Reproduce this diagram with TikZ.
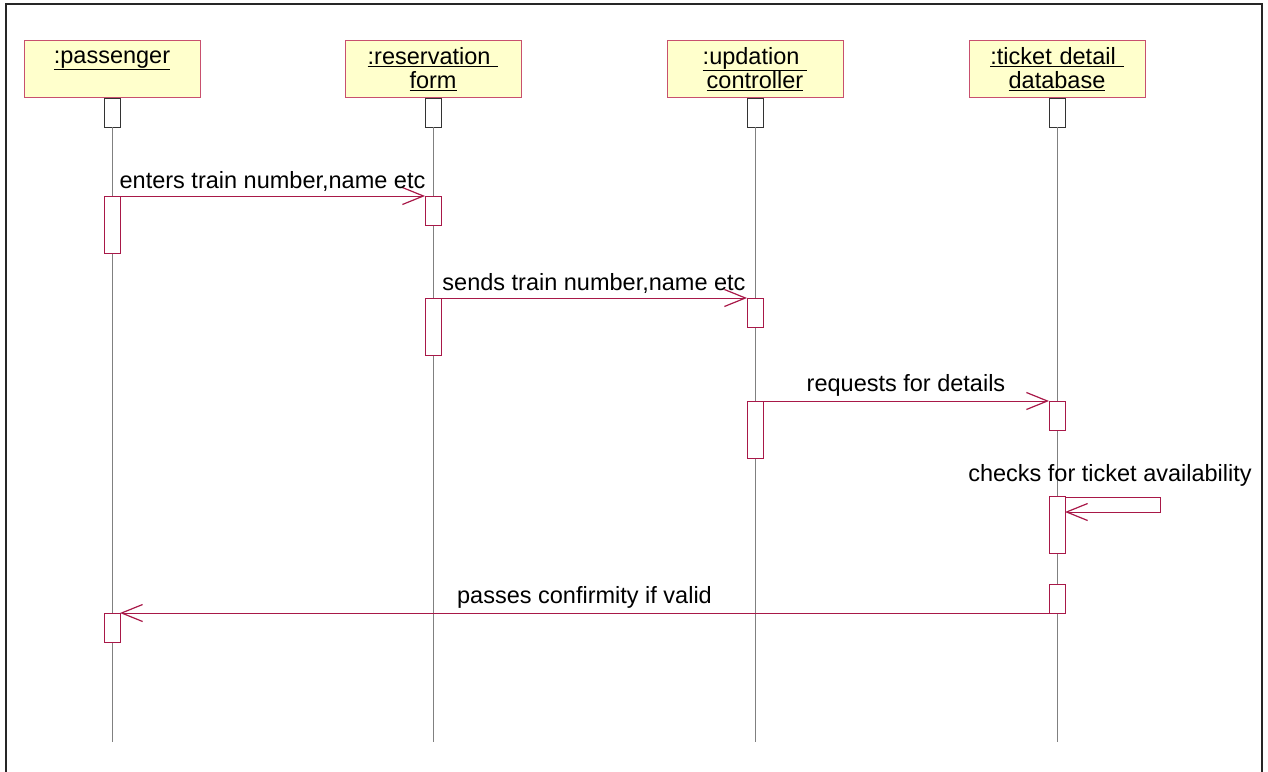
\documentclass[tikz,border=0pt]{standalone}
\usepackage{fontspec}
\setmainfont{Liberation Sans}
\usetikzlibrary{arrows.meta}

\definecolor{umlred}{RGB}{168,24,72}
\definecolor{headline}{RGB}{200,80,110}
\definecolor{headfill}{RGB}{255,255,204}

\begin{document}
\begin{tikzpicture}[x=1pt,y=-1pt]

\tikzset{head/.style = {draw=headline, fill=headfill, line width=1pt, minimum width=176pt, minimum height=57pt, text width=176pt, align=center, inner sep=0pt, anchor=north, font=\fontsize{23.5}{24}\selectfont}}
\tikzset{topbox/.style = {draw=black!80, fill=white, line width=0.8pt, minimum width=16pt, minimum height=29pt, inner sep=0pt, outer sep=0pt, anchor=north}}
\tikzset{act/.style = {draw=umlred, fill=white, line width=1pt, minimum width=16pt, inner sep=0pt, outer sep=0pt, anchor=north}}
\tikzset{lifeline/.style = {draw=gray, line width=1pt}}
\tikzset{msg/.style = {draw=umlred, line width=1pt, -{Straight Barb[length=21pt,width=17pt,line width=1.2pt]}}}
\tikzset{lbl/.style = {font=\fontsize{23.5}{24}\selectfont, inner sep=2pt}}

\useasboundingbox (0,0) rectangle (1268,771);
\draw[line width=2pt, black!85] (6,775) -- (6,4) -- (1262,4) -- (1262,775);

%objects
\node[head] (pass) at (112,40) {\underline{:passenger}\\ \mbox{}};
\node[head] (form) at (433,40) {\underline{:reservation }\\ \underline{form}};
\node[head] (ctrl) at (755,40) {\underline{:updation }\\ \underline{controller}};
\node[head] (dbase) at (1057,40) {\underline{:ticket detail }\\ \underline{database}};

\node[topbox] (passTop) at (112,98) {};
\node[topbox] (formTop) at (433,98) {};
\node[topbox] (ctrlTop) at (755,98) {};
\node[topbox] (dbaseTop) at (1057,98) {};

%lifelines
\coordinate (passEnd) at (112,742);
\coordinate (formEnd) at (433,742);
\coordinate (ctrlEnd) at (755,742);
\coordinate (dbaseEnd) at (1057,742);
\draw[lifeline] (passTop.south) -- (passEnd);
\draw[lifeline] (formTop.south) -- (formEnd);
\draw[lifeline] (ctrlTop.south) -- (ctrlEnd);
\draw[lifeline] (dbaseTop.south) -- (dbaseEnd);

%activations
\node[act, minimum height=57pt] (pass1) at (112,196) {};
\node[act, minimum height=29pt] (form1) at (433,196) {};
\node[act, minimum height=57pt] (form2) at (433,298) {};
\node[act, minimum height=29pt] (ctrl1) at (755,298) {};
\node[act, minimum height=57pt] (ctrl2) at (755,401) {};
\node[act, minimum height=29pt] (dbase1) at (1057,401) {};
\node[act, minimum height=57pt] (dbase2) at (1057,496) {};
\node[act, minimum height=29pt] (dbase3) at (1057,584) {};
\node[act, minimum height=29pt] (pass2) at (112,613) {};

%messages
\draw[msg] (pass1.north east) -- (form1.north west) node [lbl, midway, above=2pt] {enters train number,name etc};
\draw[msg] (form2.north east) -- (ctrl1.north west) node [lbl, midway, above=2pt] {sends train number,name etc};
\draw[msg] (ctrl2.north east) -- (dbase1.north west) node [lbl, midway, above=2pt] {requests for details};
\draw[msg] ([yshift=-1pt]dbase2.north east) -- ++(95,0) |- ([yshift=-16pt]dbase2.north east);
\node[lbl, anchor=south] (check) at (1110,489) {checks for ticket availability};
\draw[msg] (dbase3.south west) -- (pass2.north east) node [lbl, midway, above=2pt] {passes confirmity if valid};

\end{tikzpicture}
\end{document}
